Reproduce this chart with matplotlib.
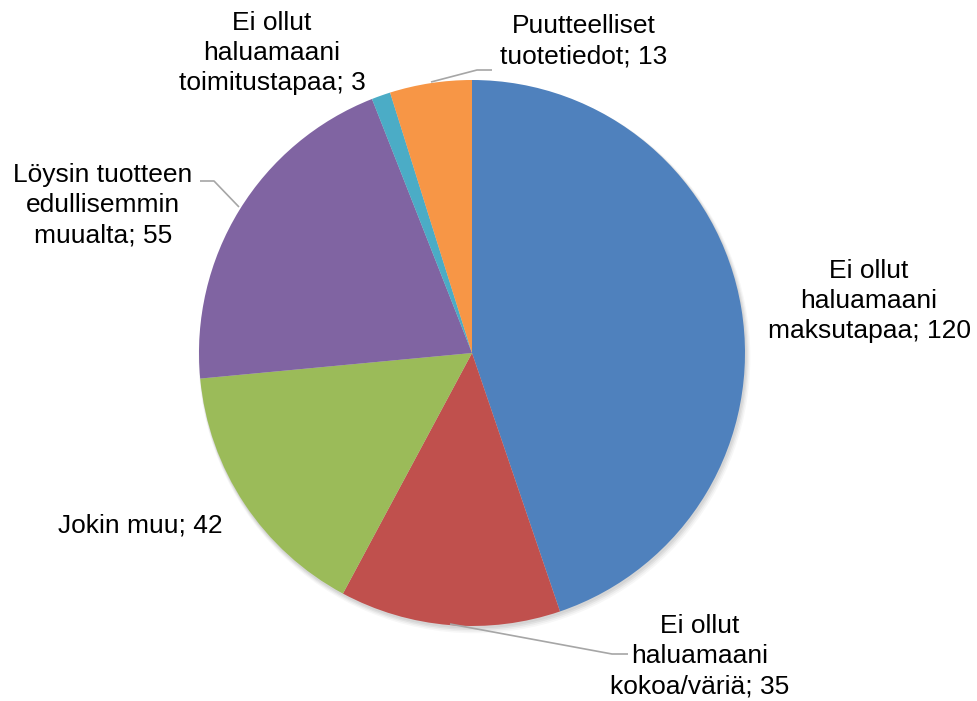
import matplotlib
matplotlib.use("Agg")
import matplotlib.pyplot as plt
from matplotlib.patches import Circle

plt.rcParams['font.family'] = ['Liberation Sans', 'DejaVu Sans']

labels = [
    "Ei ollut\nhaluamaani\nmaksutapaa",
    "Ei ollut\nhaluamaani\nkokoa/väriä",
    "Jokin muu",
    "Löysin tuotteen\nedullisemmin\nmuualta",
    "Ei ollut\nhaluamaani\ntoimitustapaa",
    "Puutteelliset\ntuotetiedot",
]
values = [120, 35, 42, 55, 3, 13]
colors = ["#4F81BD", "#C0504D", "#9BBB59", "#8064A2", "#4BACC6", "#F79646"]

W, H = 978, 701
fig = plt.figure(figsize=(W / 100, H / 100), dpi=100)
ax = fig.add_axes([0, 0, 1, 1])

cx, cy, r = 472, H - 353, 273

# soft drop shadow beneath the pie
for i, a in enumerate([0.05, 0.05, 0.04, 0.03]):
    ax.add_patch(Circle((cx + 1 + i * 0.5, cy - 2 - i * 0.8), r + 0.5 + i * 0.8,
                        color="#000000", alpha=a, lw=0, zorder=1))

wedges, _ = ax.pie(values, colors=colors, startangle=90, counterclock=False,
                   center=(cx, cy), radius=r, frame=True,
                   wedgeprops=dict(linewidth=0, zorder=2))
ax.set_xlim(0, W)
ax.set_ylim(0, H)
ax.axis("off")

# label positions (pixel centres) and leader lines
label_pos = [(869, 301), (700, 656), (140, 525), (103, 205), (272, 53), (584, 41)]
leaders = {
    1: [(450, 624), (612, 654), (628, 654)],
    3: [(239, 207), (214, 181), (200, 181)],
    5: [(431, 82), (477, 70), (492, 70)],
}

for i, (lab, v) in enumerate(zip(labels, values)):
    x, y = label_pos[i]
    ax.text(x, H - y, f"{lab}; {v}", ha="center", va="center",
            fontsize=19, linespacing=1.33, color="#000000", zorder=5)

for i, pts in leaders.items():
    xs = [p[0] for p in pts]
    ys = [H - p[1] for p in pts]
    ax.plot(xs, ys, color="#A6A6A6", lw=1.2, zorder=4, solid_capstyle="butt")

fig.savefig("out.png", dpi=100, facecolor="white")
